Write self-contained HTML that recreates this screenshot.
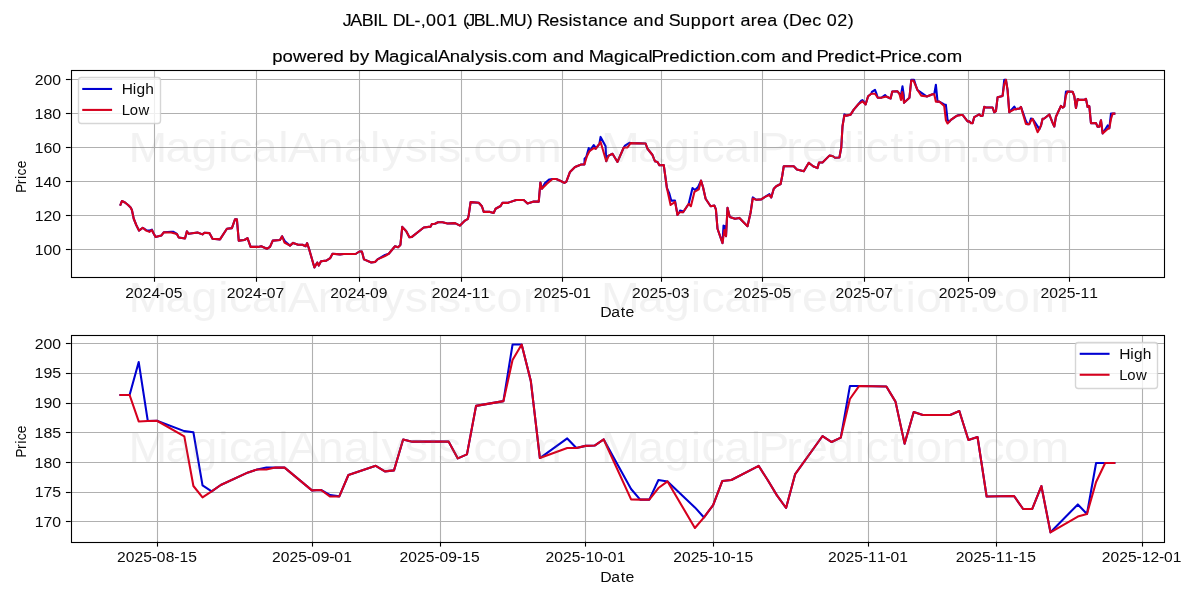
<!DOCTYPE html>
<html lang="en"><head><meta charset="utf-8"><title>JABIL DL-,001 (JBL.MU) Resistance and Support area (Dec 02)</title>
<style>
html,body{margin:0;padding:0;background:#fff;}
body{width:1200px;height:600px;overflow:hidden;font-family:"Liberation Sans",sans-serif;}
svg{display:block;will-change:transform;font-family:"Liberation Sans",sans-serif;}
svg text{white-space:pre;}
</style></head><body>
<svg width="1200" height="600" viewBox="0 0 1200 600">
<rect x="0" y="0" width="1200" height="600" fill="#fff"/>
<g><line x1="154.5" y1="70.5" x2="154.5" y2="277.5" stroke="#b0b0b0" stroke-width="1.11"/><line x1="256.5" y1="70.5" x2="256.5" y2="277.5" stroke="#b0b0b0" stroke-width="1.11"/><line x1="359.5" y1="70.5" x2="359.5" y2="277.5" stroke="#b0b0b0" stroke-width="1.11"/><line x1="461.5" y1="70.5" x2="461.5" y2="277.5" stroke="#b0b0b0" stroke-width="1.11"/><line x1="562.5" y1="70.5" x2="562.5" y2="277.5" stroke="#b0b0b0" stroke-width="1.11"/><line x1="661.5" y1="70.5" x2="661.5" y2="277.5" stroke="#b0b0b0" stroke-width="1.11"/><line x1="762.5" y1="70.5" x2="762.5" y2="277.5" stroke="#b0b0b0" stroke-width="1.11"/><line x1="864.5" y1="70.5" x2="864.5" y2="277.5" stroke="#b0b0b0" stroke-width="1.11"/><line x1="968.5" y1="70.5" x2="968.5" y2="277.5" stroke="#b0b0b0" stroke-width="1.11"/><line x1="1069.5" y1="70.5" x2="1069.5" y2="277.5" stroke="#b0b0b0" stroke-width="1.11"/><line x1="71.5" y1="249.5" x2="1164.5" y2="249.5" stroke="#b0b0b0" stroke-width="1.11"/><line x1="71.5" y1="215.5" x2="1164.5" y2="215.5" stroke="#b0b0b0" stroke-width="1.11"/><line x1="71.5" y1="181.5" x2="1164.5" y2="181.5" stroke="#b0b0b0" stroke-width="1.11"/><line x1="71.5" y1="147.5" x2="1164.5" y2="147.5" stroke="#b0b0b0" stroke-width="1.11"/><line x1="71.5" y1="113.5" x2="1164.5" y2="113.5" stroke="#b0b0b0" stroke-width="1.11"/><line x1="71.5" y1="79.5" x2="1164.5" y2="79.5" stroke="#b0b0b0" stroke-width="1.11"/></g>
<clipPath id="c140431376691328"><rect x="70.78" y="70.33" width="1093.23" height="206.56"/></clipPath>
<polyline clip-path="url(#c140431376691328)" fill="none" stroke="#0000d2" stroke-width="2.083" stroke-linejoin="round" stroke-linecap="square" points="120.47,204.76 121.9,201.01 125,202.51 128.1,205.01 130.6,207.51 131.9,210.01 133.75,218.76 136.25,225.01 139,230.61 142.75,227.76 146.25,230.21 149.4,230.61 151.9,229.61 153.1,232.51 155.6,236.9 161.25,235.6 163.75,232.26 171.25,231.71 173.5,231.91 176.9,234.01 178.75,237.5 185,238.5 186.9,231.26 188.75,233.76 197.5,232.51 202.5,234.4 204.4,232.76 209.4,233.11 212.5,238.75 220,239.4 226.9,228.76 231.9,228.11 235,219.41 236.9,219.41 238.75,240.6 244.4,240 247.5,238.1 250.6,246.9 258.1,246.9 261.25,246.25 266.9,248.75 270,246.9 272.75,240.6 280,240 282.1,236.25 284.9,241.2 290,245.6 293.1,242.9 298.1,244.75 302.5,244.75 305.6,246.25 307.1,243.1 309,248.75 314.4,267.5 317.25,262.5 318.75,265.6 321,261.25 326.25,260.6 330.25,258.1 332.5,253.75 340,254.4 343.75,254 355.6,254 359.4,251.5 361.9,251.5 364,259.4 371.25,262.5 375,261.9 377.5,259.4 385,255 388.75,253.75 395,246.25 398.1,247.25 400.4,245 402.25,226.91 406.25,231.26 409.4,237.25 411.9,236.9 423.75,227.51 430.6,226.61 431.9,224.01 435,223.76 438.1,222.26 442.5,222.26 447.5,223.51 455,223.11 460,225.61 465,220.61 467.9,218.76 468.75,215.01 470.6,202.11 478.75,202.76 481.9,206.26 483.75,211.91 490,211.91 493.75,212.91 495.6,208.76 500.6,206.01 502.5,202.76 507.5,202.91 516.25,200.01 523.75,200.01 527.5,203.51 533.75,201.51 538.75,201.61 540.4,182.51 541.9,188.76 545,183.11 549.4,179.41 552.5,179.01 556.25,179.01 561.25,181.26 564.4,182.91 566.25,181.91 570,171.91 575,166.92 581.25,164.42 584.4,164.42 584.6,158.77 586.25,156.92 588.75,148.12 589.4,151.27 593.75,145.02 595,146.92 595.6,148.77 599.4,143.77 600.6,136.92 605.6,146.27 606.25,161.27 607.5,156.27 608.75,155.62 612.5,153.77 617.5,161.92 623.75,147.52 625,145.62 629.4,142.77 630.6,143.12 645.61,143.52 647.51,148.77 652.51,155.02 655.01,161.27 657.51,161.92 659.41,165.27 663.76,165.02 666.91,188.01 669.41,193.76 671.26,200.61 675.01,200.61 677.51,215.01 679.41,212.26 680.01,210.61 682.01,211.01 683.11,212.26 688.76,203.76 689.01,202.51 692.51,188.11 695.01,190.01 698.11,186.91 701.01,180.61 703.11,187.51 705.61,198.76 710.61,206.26 714.41,205.61 715.91,209.41 717.51,228.76 722.51,243.1 723.51,225.61 725.01,226.26 726.01,236.25 727.51,207.76 729.76,216.91 735.01,218.76 739.41,217.91 747.51,226.26 750.61,212.51 752.76,197.41 756.26,199.76 761.26,199.41 765.01,196.91 769.41,194.21 771.26,197.51 773.76,188.76 776.26,186.26 780.61,184.01 782.21,176.01 783.76,166.27 793.76,166.27 796.91,169.41 803.76,171.26 808.76,162.77 813.11,166.27 817.51,168.11 819.01,162.52 822.51,162.52 829.41,155.62 832.51,156.02 835.01,157.77 839.41,157.52 841.26,147.52 842.51,126.27 844.41,114.42 846.26,115.62 850.61,114.62 853.76,109.62 858.76,103.77 861.26,100.63 862.51,101.28 862.51,100.03 865.61,104.42 868.11,96.28 871.26,93.78 871.91,91.93 875.01,89.78 876.26,93.13 877.76,97.78 881.26,97.78 885.01,95.03 886.26,96.53 890.61,98.53 892.26,91.53 897.51,91.28 899.41,93.78 901.01,95.03 902.51,86.28 903.76,95.03 904.01,102.77 909.41,97.78 911.26,79.78 914.01,79.78 916.01,86.03 917.51,90.03 921.91,93.13 926.91,96.53 932.55,94.17 934.22,94.17 935.89,84.74 937.55,101.61 939.22,101.53 944.22,104.5 945.89,104.84 947.56,120.04 949.23,121.75 950.89,119.92 955.9,116.31 957.56,115.46 959.23,114.94 960.9,114.94 962.57,114.94 967.57,121.46 969.24,121.34 970.9,122.79 972.57,123.18 974.24,117.06 979.24,114.43 980.91,116.01 982.58,115.74 984.24,106.88 985.91,107.51 990.92,107.51 992.58,107.51 994.25,112.3 995.92,111.16 997.59,97.28 1002.59,95.92 1004.26,79.72 1005.92,79.72 1007.59,90.06 1009.26,112.2 1014.26,106.59 1015.93,109.33 1017.6,108.72 1019.26,108.61 1020.93,106.88 1025.93,121.07 1027.6,124.1 1029.27,124.1 1030.94,118.49 1032.6,118.9 1037.61,126.32 1039.27,129.2 1040.94,125.64 1042.61,118.78 1044.28,118.49 1049.28,114.46 1050.95,118.54 1052.61,122.89 1054.28,126.49 1055.95,116.79 1060.95,105.9 1062.62,107.61 1064.29,106.35 1065.95,91.6 1067.62,91.6 1072.62,91.7 1074.29,96.05 1075.96,108.07 1077.63,99.03 1079.29,99.9 1084.3,99.9 1085.96,98.74 1087.63,107.05 1089.3,106.18 1090.97,123.23 1095.97,123.06 1097.64,126.78 1099.3,126.78 1100.97,120.21 1102.64,133.46 1107.64,125.47 1109.31,128.21 1110.98,113.63 1112.64,113.63 1114.31,113.63"/>
<polyline clip-path="url(#c140431376691328)" fill="none" stroke="#d6001e" stroke-width="2.083" stroke-linejoin="round" stroke-linecap="square" points="120.47,204.76 121.9,201.01 125,202.51 128.1,205.01 130.6,207.51 131.9,210.01 133.75,218.76 136.25,225.01 139,230.61 142.75,227.76 146.25,230.61 149.4,231.91 151.9,230.01 153.1,232.51 155.6,236.9 161.25,235.6 163.75,232.26 171.25,232.51 176.9,234.01 178.75,237.5 185,238.5 186.9,231.26 188.75,233.76 197.5,232.51 202.5,234.4 204.4,232.76 209.4,233.11 212.5,238.75 220,239.4 226.9,228.76 231.9,228.11 235,219.41 236.9,219.41 238.75,240.6 244.4,240 247.5,238.1 250.6,246.9 258.1,246.9 261.25,246.25 266.9,248.75 270,246.9 272.75,240.6 280,240 282.1,236.25 284.4,242.5 290,245.6 293.1,242.9 298.1,244.75 302.5,244.75 305.6,246.25 307.1,243.1 309,248.75 314.4,267.5 317.25,262.5 318.75,265.6 321,261.25 326.25,260.6 330.25,258.1 332.5,253.75 340,254.4 343.75,254 355.6,254 359.4,251.5 361.9,251.5 364,259.4 371.25,262.5 375,261.9 377.5,259.4 385,256 388.75,253.75 395,246.25 398.1,247.25 400.4,245 402.25,226.91 406.25,231.26 409.4,237.25 411.9,236.9 423.75,227.51 430.6,226.61 431.9,224.01 435,223.76 438.1,222.26 442.5,222.26 447.5,223.51 455,223.11 460,225.61 465,220.61 467.9,218.76 468.75,215.01 470.6,202.11 478.75,202.76 481.9,206.26 483.75,211.91 490,211.91 493.75,212.91 495.6,208.76 500.6,206.01 502.5,202.76 507.5,202.91 516.25,200.01 523.75,200.01 527.5,203.51 533.75,201.51 538.75,201.61 540.4,182.51 541.9,188.76 546.9,183.76 552.5,179.01 556.25,179.01 561.25,181.26 564.4,182.91 566.25,181.91 570,171.91 575,166.92 581.25,164.42 584.4,164.42 586.9,156.27 589.4,151.27 593.75,148.12 595.6,148.77 599.4,143.77 600.6,141.92 606.25,161.27 608.75,155.62 612.5,153.77 617.5,161.92 623.75,147.52 627.5,147.52 630.6,143.12 645.61,143.52 647.51,148.77 652.51,155.02 655.01,161.27 657.51,161.92 659.41,165.27 663.76,165.02 666.91,188.01 670.61,205.01 675.01,201.91 677.51,215.01 679.41,212.26 683.11,212.26 688.76,203.76 690.91,206.26 694.41,191.91 698.76,189.41 701.01,180.61 703.11,187.51 705.61,198.76 710.61,206.26 714.41,205.61 715.91,209.41 717.51,228.76 722.51,243.1 724.41,230.01 726.01,236.25 727.51,207.76 729.76,216.91 735.01,218.76 739.41,217.91 747.51,226.26 750.61,212.51 752.76,198.51 756.26,199.76 761.26,199.41 765.01,196.91 769.41,195.01 771.26,197.51 773.76,188.76 776.26,186.26 780.61,184.01 782.21,176.01 783.76,166.27 793.76,166.27 796.91,169.41 803.76,171.26 808.76,162.77 813.11,166.27 817.51,168.11 819.01,162.52 822.51,162.52 829.41,155.62 832.51,156.02 835.01,157.77 839.41,157.52 841.26,147.52 842.51,126.27 844.41,115.27 846.26,115.62 850.61,114.62 853.76,109.62 858.76,103.77 862.51,101.28 865.61,104.42 868.11,96.28 871.26,93.78 875.01,93.78 877.76,97.78 881.26,97.78 886.26,96.53 890.61,98.53 892.26,91.53 897.51,91.28 899.41,93.78 901.01,100.03 902.26,91.93 904.01,102.77 909.41,97.78 911.26,80.63 913.51,80.63 917.51,90.03 921.26,95.63 926.91,96.53 932.55,94.17 934.22,94.17 935.89,101.73 937.55,101.61 939.22,101.53 944.22,106.01 945.89,120.21 947.56,123.47 949.23,121.75 950.89,119.92 955.9,116.31 957.56,115.46 959.23,115.46 960.9,114.94 962.57,114.94 967.57,121.46 969.24,121.34 970.9,123.23 972.57,123.18 974.24,117.06 979.24,114.43 980.91,116.01 982.58,115.74 984.24,106.88 985.91,107.51 990.92,107.51 992.58,107.51 994.25,112.3 995.92,111.16 997.59,97.28 1002.59,95.92 1004.26,84.16 1005.92,79.72 1007.59,90.06 1009.26,112.2 1014.26,109.33 1015.93,109.33 1017.6,108.72 1019.26,108.61 1020.93,106.88 1025.93,124.05 1027.6,124.1 1029.27,124.1 1030.94,120.78 1032.6,118.9 1037.61,132.22 1039.27,129.2 1040.94,125.64 1042.61,118.78 1044.28,118.49 1049.28,114.46 1050.95,118.54 1052.61,122.89 1054.28,126.49 1055.95,116.79 1060.95,105.9 1062.62,107.61 1064.29,106.35 1065.95,95.31 1067.62,91.6 1072.62,91.7 1074.29,96.05 1075.96,108.07 1077.63,99.03 1079.29,99.9 1084.3,99.9 1085.96,98.74 1087.63,107.05 1089.3,106.18 1090.97,123.23 1095.97,123.06 1097.64,126.78 1099.3,126.78 1100.97,120.21 1102.64,133.46 1107.64,128.96 1109.31,128.21 1110.98,119.07 1112.64,113.63 1114.31,113.63"/>
<g><line x1="154.5" y1="276.89" x2="154.5" y2="281.75" stroke="#000" stroke-width="1.11"/><line x1="256.5" y1="276.89" x2="256.5" y2="281.75" stroke="#000" stroke-width="1.11"/><line x1="359.5" y1="276.89" x2="359.5" y2="281.75" stroke="#000" stroke-width="1.11"/><line x1="461.5" y1="276.89" x2="461.5" y2="281.75" stroke="#000" stroke-width="1.11"/><line x1="562.5" y1="276.89" x2="562.5" y2="281.75" stroke="#000" stroke-width="1.11"/><line x1="661.5" y1="276.89" x2="661.5" y2="281.75" stroke="#000" stroke-width="1.11"/><line x1="762.5" y1="276.89" x2="762.5" y2="281.75" stroke="#000" stroke-width="1.11"/><line x1="864.5" y1="276.89" x2="864.5" y2="281.75" stroke="#000" stroke-width="1.11"/><line x1="968.5" y1="276.89" x2="968.5" y2="281.75" stroke="#000" stroke-width="1.11"/><line x1="1069.5" y1="276.89" x2="1069.5" y2="281.75" stroke="#000" stroke-width="1.11"/><line x1="65.92" y1="249.5" x2="70.78" y2="249.5" stroke="#000" stroke-width="1.11"/><line x1="65.92" y1="215.5" x2="70.78" y2="215.5" stroke="#000" stroke-width="1.11"/><line x1="65.92" y1="181.5" x2="70.78" y2="181.5" stroke="#000" stroke-width="1.11"/><line x1="65.92" y1="147.5" x2="70.78" y2="147.5" stroke="#000" stroke-width="1.11"/><line x1="65.92" y1="113.5" x2="70.78" y2="113.5" stroke="#000" stroke-width="1.11"/><line x1="65.92" y1="79.5" x2="70.78" y2="79.5" stroke="#000" stroke-width="1.11"/></g>
<rect x="71.5" y="70.5" width="1093" height="207" fill="none" stroke="#000" stroke-width="1.11"/>
<rect x="78.5" y="77.5" width="82" height="46" rx="2.78" ry="2.78" fill="#fff" fill-opacity="0.8" stroke="#ccc" stroke-opacity="0.8" stroke-width="1.39"/>
<line x1="83.28" y1="88.97" x2="111.06" y2="88.97" stroke="#0000d2" stroke-width="2.083" stroke-linecap="square"/>
<line x1="83.28" y1="109.92" x2="111.06" y2="109.92" stroke="#d6001e" stroke-width="2.083" stroke-linecap="square"/>
<g><line x1="157.5" y1="335.5" x2="157.5" y2="542.5" stroke="#b0b0b0" stroke-width="1.11"/><line x1="312.5" y1="335.5" x2="312.5" y2="542.5" stroke="#b0b0b0" stroke-width="1.11"/><line x1="440.5" y1="335.5" x2="440.5" y2="542.5" stroke="#b0b0b0" stroke-width="1.11"/><line x1="585.5" y1="335.5" x2="585.5" y2="542.5" stroke="#b0b0b0" stroke-width="1.11"/><line x1="713.5" y1="335.5" x2="713.5" y2="542.5" stroke="#b0b0b0" stroke-width="1.11"/><line x1="868.5" y1="335.5" x2="868.5" y2="542.5" stroke="#b0b0b0" stroke-width="1.11"/><line x1="996.5" y1="335.5" x2="996.5" y2="542.5" stroke="#b0b0b0" stroke-width="1.11"/><line x1="1142.5" y1="335.5" x2="1142.5" y2="542.5" stroke="#b0b0b0" stroke-width="1.11"/><line x1="71.5" y1="521.5" x2="1164.5" y2="521.5" stroke="#b0b0b0" stroke-width="1.11"/><line x1="71.5" y1="492.5" x2="1164.5" y2="492.5" stroke="#b0b0b0" stroke-width="1.11"/><line x1="71.5" y1="462.5" x2="1164.5" y2="462.5" stroke="#b0b0b0" stroke-width="1.11"/><line x1="71.5" y1="432.5" x2="1164.5" y2="432.5" stroke="#b0b0b0" stroke-width="1.11"/><line x1="71.5" y1="403.5" x2="1164.5" y2="403.5" stroke="#b0b0b0" stroke-width="1.11"/><line x1="71.5" y1="373.5" x2="1164.5" y2="373.5" stroke="#b0b0b0" stroke-width="1.11"/><line x1="71.5" y1="343.5" x2="1164.5" y2="343.5" stroke="#b0b0b0" stroke-width="1.11"/></g>
<clipPath id="c140431374782864"><rect x="70.78" y="335.17" width="1093.23" height="206.56"/></clipPath>
<polyline clip-path="url(#c140431374782864)" fill="none" stroke="#0000d2" stroke-width="2.083" stroke-linejoin="round" stroke-linecap="square" points="120.47,395.03 129.59,395.03 138.71,362.07 147.82,421.04 156.94,420.75 184.29,431.14 193.41,432.33 202.53,485.42 211.65,491.42 220.77,485 248.12,472.41 257.24,469.44 266.35,467.6 275.47,467.6 284.59,467.6 311.94,490.41 321.06,489.99 330.18,495.04 339.3,496.4 348.42,475.03 375.77,465.82 384.89,471.34 394,470.39 403.12,439.45 412.24,441.65 439.59,441.65 448.71,441.65 457.83,458.4 466.95,454.42 476.06,405.9 503.42,401.15 512.54,344.56 521.65,344.56 530.77,380.66 539.89,458.04 567.24,438.44 576.36,448.01 585.48,445.87 594.6,445.51 603.71,439.45 631.07,489.04 640.19,499.61 649.3,499.61 658.42,480.01 667.54,481.44 694.89,507.39 704.01,517.43 713.13,505.02 722.25,481.02 731.36,480.01 758.72,465.94 767.83,480.19 776.95,495.4 786.07,507.99 795.19,474.08 822.54,436.01 831.66,442.01 840.78,437.61 849.89,386.07 859.01,386.07 886.37,386.42 895.48,401.63 904.6,443.61 913.72,412.02 922.84,415.05 950.19,415.05 959.31,411.01 968.43,440.05 977.54,437.02 986.66,496.58 1014.02,495.99 1023.13,508.99 1032.25,508.99 1041.37,486.01 1050.49,532.33 1077.84,504.42 1086.96,513.98 1096.08,463.03 1105.19,463.03 1114.31,463.03"/>
<polyline clip-path="url(#c140431374782864)" fill="none" stroke="#d6001e" stroke-width="2.083" stroke-linejoin="round" stroke-linecap="square" points="120.47,395.03 129.59,395.03 138.71,421.46 147.82,421.04 156.94,420.75 184.29,436.43 193.41,486.01 202.53,497.41 211.65,491.42 220.77,485 248.12,472.41 257.24,469.44 266.35,469.44 275.47,467.6 284.59,467.6 311.94,490.41 321.06,489.99 330.18,496.58 339.3,496.4 348.42,475.03 375.77,465.82 384.89,471.34 394,470.39 403.12,439.45 412.24,441.65 439.59,441.65 448.71,441.65 457.83,458.4 466.95,454.42 476.06,405.9 503.42,401.15 512.54,360.06 521.65,344.56 530.77,380.66 539.89,458.04 567.24,448.01 576.36,448.01 585.48,445.87 594.6,445.51 603.71,439.45 631.07,499.43 640.19,499.61 649.3,499.61 658.42,488.03 667.54,481.44 694.89,528 704.01,517.43 713.13,505.02 722.25,481.02 731.36,480.01 758.72,465.94 767.83,480.19 776.95,495.4 786.07,507.99 795.19,474.08 822.54,436.01 831.66,442.01 840.78,437.61 849.89,399.01 859.01,386.07 886.37,386.42 895.48,401.63 904.6,443.61 913.72,412.02 922.84,415.05 950.19,415.05 959.31,411.01 968.43,440.05 977.54,437.02 986.66,496.58 1014.02,495.99 1023.13,508.99 1032.25,508.99 1041.37,486.01 1050.49,532.33 1077.84,516.6 1086.96,513.98 1096.08,482.03 1105.19,463.03 1114.31,463.03"/>
<g><line x1="157.5" y1="541.72" x2="157.5" y2="546.58" stroke="#000" stroke-width="1.11"/><line x1="312.5" y1="541.72" x2="312.5" y2="546.58" stroke="#000" stroke-width="1.11"/><line x1="440.5" y1="541.72" x2="440.5" y2="546.58" stroke="#000" stroke-width="1.11"/><line x1="585.5" y1="541.72" x2="585.5" y2="546.58" stroke="#000" stroke-width="1.11"/><line x1="713.5" y1="541.72" x2="713.5" y2="546.58" stroke="#000" stroke-width="1.11"/><line x1="868.5" y1="541.72" x2="868.5" y2="546.58" stroke="#000" stroke-width="1.11"/><line x1="996.5" y1="541.72" x2="996.5" y2="546.58" stroke="#000" stroke-width="1.11"/><line x1="1142.5" y1="541.72" x2="1142.5" y2="546.58" stroke="#000" stroke-width="1.11"/><line x1="65.92" y1="521.5" x2="70.78" y2="521.5" stroke="#000" stroke-width="1.11"/><line x1="65.92" y1="492.5" x2="70.78" y2="492.5" stroke="#000" stroke-width="1.11"/><line x1="65.92" y1="462.5" x2="70.78" y2="462.5" stroke="#000" stroke-width="1.11"/><line x1="65.92" y1="432.5" x2="70.78" y2="432.5" stroke="#000" stroke-width="1.11"/><line x1="65.92" y1="403.5" x2="70.78" y2="403.5" stroke="#000" stroke-width="1.11"/><line x1="65.92" y1="373.5" x2="70.78" y2="373.5" stroke="#000" stroke-width="1.11"/><line x1="65.92" y1="343.5" x2="70.78" y2="343.5" stroke="#000" stroke-width="1.11"/></g>
<rect x="71.5" y="335.5" width="1093" height="207" fill="none" stroke="#000" stroke-width="1.11"/>
<rect x="1075.5" y="342.5" width="82" height="46" rx="2.78" ry="2.78" fill="#fff" fill-opacity="0.8" stroke="#ccc" stroke-opacity="0.8" stroke-width="1.39"/>
<line x1="1080.74" y1="353.81" x2="1108.52" y2="353.81" stroke="#0000d2" stroke-width="2.083" stroke-linecap="square"/>
<line x1="1080.74" y1="374.75" x2="1108.52" y2="374.75" stroke="#d6001e" stroke-width="2.083" stroke-linecap="square"/>
<text transform="translate(125.13,297.61) scale(1.1061,1)" font-size="14.15" x="0.02 7.93 15.84 23.75 31.49 36.07 44.01" y="0" fill="#0a0a0a">2024-05</text>
<text transform="translate(226.85,297.61) scale(1.1061,1)" font-size="14.15" x="0.02 7.93 15.84 23.75 31.49 36.07 44.01" y="0" fill="#0a0a0a">2024-07</text>
<text transform="translate(330.18,297.61) scale(1.1061,1)" font-size="14.15" x="0.02 7.93 15.84 23.75 31.49 36.07 44.01" y="0" fill="#0a0a0a">2024-09</text>
<text transform="translate(431.83,297.61) scale(1.1086,1)" font-size="14.15" x="0.01 7.9 15.8 23.69 31.42 36.04 44.02" y="0" fill="#0a0a0a">2024-11</text>
<text transform="translate(533.61,297.61) scale(1.1061,1)" font-size="14.15" x="0.02 7.93 15.84 23.75 31.49 36.07 44.01" y="0" fill="#0a0a0a">2025-01</text>
<text transform="translate(632.06,297.61) scale(1.1061,1)" font-size="14.15" x="0.02 7.93 15.84 23.75 31.49 36.07 44.01" y="0" fill="#0a0a0a">2025-03</text>
<text transform="translate(733.78,297.61) scale(1.1061,1)" font-size="14.15" x="0.02 7.93 15.84 23.75 31.49 36.07 44.01" y="0" fill="#0a0a0a">2025-05</text>
<text transform="translate(835.5,297.61) scale(1.1061,1)" font-size="14.15" x="0.02 7.93 15.84 23.75 31.49 36.07 44.01" y="0" fill="#0a0a0a">2025-07</text>
<text transform="translate(938.82,297.61) scale(1.1061,1)" font-size="14.15" x="0.02 7.93 15.84 23.75 31.49 36.07 44.01" y="0" fill="#0a0a0a">2025-09</text>
<text transform="translate(1040.48,297.61) scale(1.1086,1)" font-size="14.15" x="0.01 7.9 15.8 23.69 31.42 36.04 44.02" y="0" fill="#0a0a0a">2025-11</text>
<text transform="translate(34.68,254.8) scale(1.1202,1)" font-size="14.15" x="0.03 7.89 15.74" y="0" fill="#0a0a0a">100</text>
<text transform="translate(34.68,220.81) scale(1.1202,1)" font-size="14.15" x="0.03 7.89 15.74" y="0" fill="#0a0a0a">120</text>
<text transform="translate(34.68,186.82) scale(1.1202,1)" font-size="14.15" x="0.03 7.89 15.74" y="0" fill="#0a0a0a">140</text>
<text transform="translate(34.56,152.83) scale(1.1255,1)" font-size="14.15" x="0.01 7.89 15.76" y="0" fill="#0a0a0a">160</text>
<text transform="translate(34.56,118.84) scale(1.1255,1)" font-size="14.15" x="0.01 7.89 15.76" y="0" fill="#0a0a0a">180</text>
<text transform="translate(34.81,84.85) scale(1.1150,1)" font-size="14.15" x="-0.01 7.84 15.72" y="0" fill="#0a0a0a">200</text>
<text transform="translate(600.7,317.17) scale(1.1176,1)" font-size="14.15" x="-0.3 9.54 17.83 22.14" y="0" fill="#0a0a0a">Date</text>
<text transform="translate(26,192.15) rotate(-90) scale(0.9833,1)" font-size="14.15" x="-0.86 8.1 13.46 16.96 24.25" y="0" fill="#0a0a0a">Price</text>
<text transform="translate(272.2,62) scale(1.0932,1)" font-size="16.98" x="0.08 9.51 18.97 31.3 40.85 46.62 56.11 65.68 70.52 80.31 89.12 93.38 106.94 116.37 126.12 130.05 138.38 147.96 151.51 162.45 171.89 181.47 185.74 194.26 202.74 206.49 214.78 219.47 227.8 237.51 252.06 256.73 266.16 275.77 285.34 289.6 303.16 312.59 322.34 326.27 334.6 344.18 347.04 357.36 363.13 372.62 382.37 386.3 395.34 400.9 404.81 414.24 423.81 428.5 436.83 446.54 461.09 465.76 475.19 484.79 494.36 497.97 508.3 514.07 523.56 533.31 537.24 546.27 551.47 555.83 566.33 572.53 576.46 584.85 594.3 598.99 607.32 617" y="0" stroke="#000" stroke-width="0.14">powered by MagicalAnalysis.com and MagicalPrediction.com and Predict-Price.com</text>
<text transform="translate(122.17,93.83) scale(1.0966,1)" font-size="14.15" x="-0.38 9.66 13.11 21.16" y="0" fill="#0a0a0a">High</text>
<text transform="translate(122.17,114.78) scale(1.0533,1)" font-size="14.15" x="-0.38 7.22 15.47" y="0" fill="#0a0a0a">Low</text>
<text transform="translate(116.94,562.44) scale(1.1061,1)" font-size="14.15" x="0.02 7.93 15.84 23.75 31.49 36.07 44.04 51.83 56.47 64.47" y="0" fill="#0a0a0a">2025-08-15</text>
<text transform="translate(271.94,562.44) scale(1.1044,1)" font-size="14.15" x="0.03 7.95 15.87 23.79 31.54 36.13 44.11 51.92 56.5 64.46" y="0" fill="#0a0a0a">2025-09-01</text>
<text transform="translate(399.59,562.44) scale(1.1061,1)" font-size="14.15" x="0.02 7.93 15.84 23.75 31.49 36.07 44.04 51.83 56.47 64.47" y="0" fill="#0a0a0a">2025-09-15</text>
<text transform="translate(545.48,562.44) scale(1.1044,1)" font-size="14.15" x="0.03 7.95 15.87 23.79 31.54 36.19 44.17 51.92 56.5 64.46" y="0" fill="#0a0a0a">2025-10-01</text>
<text transform="translate(673.13,562.44) scale(1.1061,1)" font-size="14.15" x="0.02 7.93 15.84 23.75 31.49 36.13 44.09 51.83 56.47 64.47" y="0" fill="#0a0a0a">2025-10-15</text>
<text transform="translate(828.07,562.44) scale(1.1061,1)" font-size="14.15" x="0.02 7.93 15.84 23.75 31.49 36.13 44.15 51.94 56.52 64.47" y="0" fill="#0a0a0a">2025-11-01</text>
<text transform="translate(955.72,562.44) scale(1.1079,1)" font-size="14.15" x="0.01 7.91 15.81 23.71 31.44 36.06 44.07 51.86 56.49 64.48" y="0" fill="#0a0a0a">2025-11-15</text>
<text transform="translate(1101.66,562.44) scale(1.1044,1)" font-size="14.15" x="0.03 7.95 15.87 23.79 31.54 36.19 44.17 51.92 56.5 64.46" y="0" fill="#0a0a0a">2025-12-01</text>
<text transform="translate(34.68,526.91) scale(1.1202,1)" font-size="14.15" x="0.03 7.89 15.74" y="0" fill="#0a0a0a">170</text>
<text transform="translate(34.68,497.21) scale(1.1202,1)" font-size="14.15" x="0.03 7.89 15.74" y="0" fill="#0a0a0a">175</text>
<text transform="translate(34.56,467.52) scale(1.1255,1)" font-size="14.15" x="0.01 7.89 15.76" y="0" fill="#0a0a0a">180</text>
<text transform="translate(34.56,437.83) scale(1.1255,1)" font-size="14.15" x="0.01 7.89 15.76" y="0" fill="#0a0a0a">185</text>
<text transform="translate(34.56,408.13) scale(1.1255,1)" font-size="14.15" x="0.01 7.89 15.76" y="0" fill="#0a0a0a">190</text>
<text transform="translate(34.56,378.44) scale(1.1255,1)" font-size="14.15" x="0.01 7.89 15.76" y="0" fill="#0a0a0a">195</text>
<text transform="translate(34.81,348.75) scale(1.1150,1)" font-size="14.15" x="-0.01 7.84 15.72" y="0" fill="#0a0a0a">200</text>
<text transform="translate(600.7,582) scale(1.1176,1)" font-size="14.15" x="-0.3 9.54 17.83 22.14" y="0" fill="#0a0a0a">Date</text>
<text transform="translate(26,456.98) rotate(-90) scale(0.9833,1)" font-size="14.15" x="-0.86 8.1 13.46 16.96 24.25" y="0" fill="#0a0a0a">Price</text>
<text transform="translate(1119.63,358.67) scale(1.0966,1)" font-size="14.15" x="-0.38 9.66 13.11 21.16" y="0" fill="#0a0a0a">High</text>
<text transform="translate(1119.63,379.61) scale(1.0533,1)" font-size="14.15" x="-0.38 7.22 15.47" y="0" fill="#0a0a0a">Low</text>
<text transform="translate(345.94,26) scale(1.0555,1)" font-size="16.98" x="-2.97 4.11 14.88 25.89 30.21 39.45 44.26 56.03 64.97 70.77 75.93 85.88 95.89 105.77 110.81 113.92 121 131.71 140.94 145.53 159.08 171.27 177.3 181.17 192.59 202.06 210.76 214.73 223.85 229.36 239.13 248.9 257.6 267.31 272.23 282 291.95 301.77 305.93 316.82 326.77 336.72 346.49 356.44 363.24 368.81 373.73 383.5 389.54 399.19 408.84 413.88 419.69 432.05 441.71 450.41 455.5 465.51 475.51" y="0" stroke="#000" stroke-width="0.14">JABIL DL-,001 (JBL.MU) Resistance and Support area (Dec 02)</text>
<text transform="translate(129.81,162) scale(1.0949,1)" font-size="42.46" x="-1.24 32.72 56.41 80.79 90.59 111.49 135.48 144.3 171.71 195.4 219.39 229.99 251.17 272.25 281.53 302.23 314.01 334.86 359.06 395.39 407.5 419.6 430.3 464.26 487.95 512.34 522.14 543.04 567.02 573.96 599.61 613.99 637.74 662.12 671.92 694.56 708.48 718.22 741.86 765.86 777.64 798.48 822.71" y="0" fill="#808080" fill-opacity="0.1">MagicalAnalysis.com   MagicalPrediction.com</text>
<text transform="translate(129.81,312) scale(1.0949,1)" font-size="42.46" x="-1.24 32.72 56.41 80.79 90.59 111.49 135.48 144.3 171.71 195.4 219.39 229.99 251.17 272.25 281.53 302.23 314.01 334.86 359.06 395.39 407.5 419.6 430.3 464.26 487.95 512.34 522.14 543.04 567.02 573.96 599.61 613.99 637.74 662.12 671.92 694.56 708.48 718.22 741.86 765.86 777.64 798.48 822.71" y="0" fill="#808080" fill-opacity="0.1">MagicalAnalysis.com   MagicalPrediction.com</text>
<text transform="translate(129.81,462) scale(1.0949,1)" font-size="42.46" x="-1.24 32.72 56.41 80.79 90.59 111.49 135.48 144.3 171.71 195.4 219.39 229.99 251.17 272.25 281.53 302.23 314.01 334.86 359.06 395.39 407.5 419.6 430.3 464.26 487.95 512.34 522.14 543.04 567.02 573.96 599.61 613.99 637.74 662.12 671.92 694.56 708.48 718.22 741.86 765.86 777.64 798.48 822.71" y="0" fill="#808080" fill-opacity="0.1">MagicalAnalysis.com   MagicalPrediction.com</text>
</svg>
</body></html>
